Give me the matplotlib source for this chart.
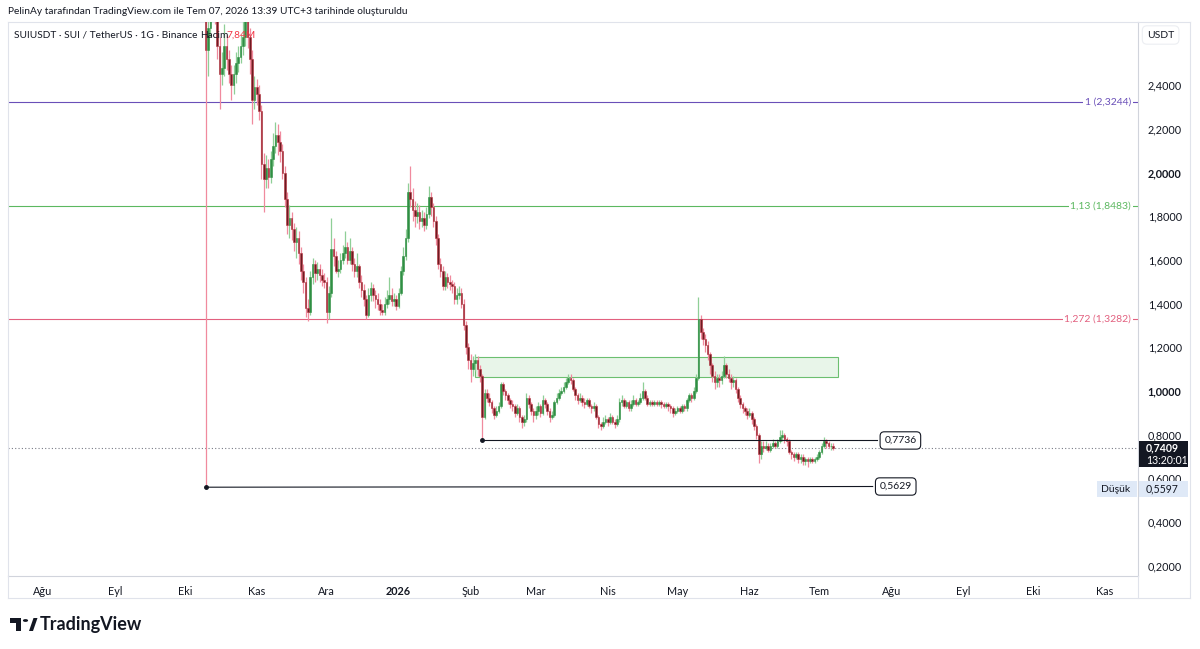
import matplotlib
matplotlib.use('Agg')
import matplotlib.pyplot as plt
import matplotlib.dates as mdates
from matplotlib.patches import Rectangle, Polygon, Circle
from matplotlib.lines import Line2D
import numpy as np
import pandas as pd

plt.rcParams['font.family'] = ['Lato', 'DejaVu Sans']

# daily candles, SUIUSDT Binance, starting 2025-10-10
start_date = '2025-10-10'
first_open = 3.37
closes = [
    2.56, 2.66, 2.78, 2.85, 2.75, 2.58, 2.45, 2.48, 2.58, 2.52,
    2.45, 2.40, 2.45, 2.50, 2.53, 2.58, 2.62, 2.70, 2.62, 2.52,
    2.33, 2.39, 2.36, 2.28, 2.04, 1.97, 2.02, 1.98, 2.06, 2.12,
    2.17, 2.14, 2.10, 2.00, 1.88, 1.76, 1.79, 1.74, 1.68, 1.70,
    1.63, 1.55, 1.50, 1.38, 1.36, 1.52, 1.58, 1.54, 1.56, 1.53,
    1.51, 1.50, 1.36, 1.45, 1.65, 1.62, 1.55, 1.56, 1.60, 1.63,
    1.66, 1.60, 1.64, 1.58, 1.55, 1.57, 1.50, 1.46, 1.42, 1.35,
    1.44, 1.47, 1.44, 1.42, 1.40, 1.37, 1.36, 1.40, 1.42, 1.44,
    1.41, 1.42, 1.39, 1.45, 1.55, 1.62, 1.70, 1.91, 1.88, 1.83,
    1.80, 1.82, 1.78, 1.79, 1.76, 1.81, 1.89, 1.84, 1.78, 1.70,
    1.58, 1.55, 1.48, 1.52, 1.50, 1.49, 1.48, 1.42, 1.44, 1.45,
    1.40, 1.30, 1.20, 1.14, 1.10, 1.13, 1.14, 1.10, 1.07, 0.88,
    0.99, 0.97, 0.95, 0.92, 0.89, 0.91, 0.93, 1.03, 1.00, 0.98,
    0.96, 0.94, 0.93, 0.90, 0.92, 0.88, 0.86, 0.87, 0.97, 0.94,
    0.91, 0.89, 0.91, 0.93, 0.90, 0.96, 0.94, 0.91, 0.88, 0.89,
    0.95, 0.97, 0.99, 1.00, 1.02, 1.04, 1.06, 1.05, 1.01, 0.98,
    0.96, 0.97, 0.95, 0.94, 0.96, 0.93, 0.92, 0.93, 0.88, 0.85,
    0.84, 0.86, 0.87, 0.86, 0.88, 0.86, 0.85, 0.87, 0.95, 0.96,
    0.93, 0.95, 0.92, 0.94, 0.96, 0.94, 0.95, 0.97, 1.00, 0.97,
    0.94, 0.95, 0.94, 0.95, 0.94, 0.95, 0.94, 0.93, 0.94, 0.93,
    0.92, 0.90, 0.91, 0.92, 0.91, 0.93, 0.92, 0.96, 0.98, 0.97,
    1.00, 1.06, 1.33, 1.27, 1.24, 1.21, 1.17, 1.12, 1.07, 1.04,
    1.06, 1.05, 1.07, 1.12, 1.08, 1.06, 1.04, 1.05, 1.01, 0.97,
    0.94, 0.92, 0.91, 0.89, 0.90, 0.87, 0.84, 0.80, 0.71, 0.75,
    0.74, 0.75, 0.73, 0.75, 0.76, 0.75, 0.77, 0.79, 0.80, 0.78,
    0.77, 0.72, 0.71, 0.70, 0.71, 0.69, 0.70, 0.68, 0.69, 0.68,
    0.69, 0.68, 0.69, 0.70, 0.72, 0.75, 0.77, 0.76, 0.75, 0.75, 0.7409,
]
highs = [
    3.42, 2.74, 2.86, 2.92, 2.89, 2.80, 2.62, 2.55, 2.68, 2.63,
    2.56, 2.49, 2.49, 2.55, 2.58, 2.63, 2.70, 2.78, 2.74, 2.66,
    2.56, 2.44, 2.43, 2.40, 2.31, 2.09, 2.08, 2.06, 2.10, 2.18,
    2.23, 2.22, 2.19, 2.13, 2.03, 1.91, 1.85, 1.82, 1.77, 1.75,
    1.73, 1.66, 1.58, 1.52, 1.42, 1.55, 1.61, 1.60, 1.59, 1.58,
    1.56, 1.54, 1.52, 1.48, 1.79, 1.70, 1.64, 1.60, 1.63, 1.67,
    1.73, 1.68, 1.70, 1.66, 1.61, 1.63, 1.58, 1.53, 1.49, 1.44,
    1.47, 1.50, 1.49, 1.46, 1.45, 1.42, 1.40, 1.43, 1.46, 1.52,
    1.47, 1.45, 1.44, 1.47, 1.57, 1.66, 1.74, 1.95, 2.03, 1.93,
    1.87, 1.86, 1.85, 1.83, 1.82, 1.84, 1.94, 1.91, 1.86, 1.80,
    1.72, 1.61, 1.57, 1.55, 1.54, 1.53, 1.51, 1.50, 1.47, 1.48,
    1.47, 1.42, 1.32, 1.22, 1.17, 1.16, 1.17, 1.16, 1.12, 1.08,
    1.01, 1.01, 0.99, 0.96, 0.93, 0.93, 0.95, 1.04, 1.04, 1.01,
    0.99, 0.97, 0.96, 0.94, 0.94, 0.93, 0.89, 0.89, 0.99, 0.98,
    0.95, 0.92, 0.93, 0.95, 0.94, 0.98, 0.97, 0.95, 0.92, 0.91,
    0.96, 0.99, 1.01, 1.02, 1.04, 1.06, 1.08, 1.08, 1.06, 1.02,
    0.99, 0.99, 0.98, 0.97, 0.97, 0.97, 0.94, 0.95, 0.94, 0.89,
    0.86, 0.88, 0.89, 0.88, 0.90, 0.89, 0.87, 0.89, 0.97, 0.98,
    0.97, 0.96, 0.96, 0.96, 0.98, 0.97, 0.96, 0.99, 1.04, 1.01,
    0.98, 0.96, 0.96, 0.96, 0.96, 0.96, 0.96, 0.95, 0.95, 0.95,
    0.94, 0.93, 0.92, 0.93, 0.93, 0.94, 0.94, 0.97, 0.99, 0.99,
    1.02, 1.08, 1.43, 1.35, 1.29, 1.26, 1.23, 1.18, 1.13, 1.09,
    1.08, 1.08, 1.09, 1.16, 1.13, 1.10, 1.08, 1.07, 1.06, 1.02,
    0.98, 0.95, 0.93, 0.92, 0.92, 0.91, 0.88, 0.85, 0.81, 0.77,
    0.77, 0.77, 0.76, 0.76, 0.78, 0.77, 0.78, 0.82, 0.82, 0.81,
    0.79, 0.78, 0.73, 0.72, 0.72, 0.72, 0.71, 0.71, 0.70, 0.70,
    0.70, 0.70, 0.70, 0.71, 0.73, 0.76, 0.79, 0.78, 0.77, 0.76, 0.76,
]
lows = [
    0.5597, 2.44, 2.62, 2.72, 2.68, 2.52, 2.29, 2.40, 2.44, 2.47,
    2.41, 2.33, 2.36, 2.41, 2.46, 2.50, 2.54, 2.58, 2.57, 2.45,
    2.22, 2.29, 2.31, 2.24, 1.97, 1.82, 1.93, 1.93, 1.95, 2.03,
    2.09, 2.08, 2.05, 1.97, 1.84, 1.72, 1.70, 1.69, 1.64, 1.61,
    1.58, 1.51, 1.45, 1.34, 1.32, 1.35, 1.49, 1.50, 1.51, 1.50,
    1.48, 1.47, 1.31, 1.33, 1.43, 1.57, 1.54, 1.52, 1.54, 1.58,
    1.61, 1.58, 1.58, 1.55, 1.52, 1.52, 1.47, 1.43, 1.39, 1.33,
    1.34, 1.41, 1.41, 1.38, 1.37, 1.35, 1.35, 1.35, 1.38, 1.40,
    1.39, 1.39, 1.37, 1.38, 1.44, 1.53, 1.60, 1.68, 1.84, 1.78,
    1.75, 1.77, 1.74, 1.75, 1.73, 1.74, 1.79, 1.80, 1.75, 1.67,
    1.56, 1.52, 1.46, 1.46, 1.47, 1.46, 1.45, 1.40, 1.40, 1.42,
    1.38, 1.28, 1.17, 1.10, 1.04, 1.07, 1.09, 1.07, 1.04, 0.7736,
    0.87, 0.95, 0.93, 0.90, 0.87, 0.88, 0.90, 0.92, 0.98, 0.96,
    0.94, 0.92, 0.91, 0.88, 0.89, 0.86, 0.83, 0.84, 0.86, 0.92,
    0.89, 0.86, 0.87, 0.89, 0.88, 0.89, 0.92, 0.89, 0.86, 0.87,
    0.88, 0.94, 0.96, 0.98, 0.99, 1.01, 1.03, 1.03, 1.00, 0.96,
    0.94, 0.95, 0.93, 0.92, 0.93, 0.92, 0.90, 0.91, 0.87, 0.83,
    0.82, 0.83, 0.85, 0.84, 0.85, 0.85, 0.83, 0.84, 0.86, 0.93,
    0.92, 0.92, 0.91, 0.91, 0.93, 0.93, 0.93, 0.94, 0.96, 0.96,
    0.93, 0.93, 0.93, 0.93, 0.93, 0.93, 0.92, 0.92, 0.92, 0.91,
    0.90, 0.88, 0.89, 0.90, 0.90, 0.90, 0.91, 0.91, 0.95, 0.95,
    0.96, 0.99, 1.05, 1.24, 1.21, 1.18, 1.14, 1.08, 1.04, 1.01,
    1.02, 1.02, 1.03, 1.06, 1.06, 1.04, 1.01, 1.02, 0.99, 0.95,
    0.92, 0.90, 0.89, 0.87, 0.88, 0.85, 0.82, 0.78, 0.67, 0.69,
    0.72, 0.73, 0.72, 0.72, 0.74, 0.74, 0.74, 0.76, 0.77, 0.76,
    0.75, 0.71, 0.69, 0.68, 0.69, 0.67, 0.67, 0.66, 0.66, 0.65,
    0.67, 0.67, 0.67, 0.68, 0.69, 0.71, 0.74, 0.74, 0.74, 0.73, 0.73,
]

# drawings
fib_levels = [2.3244, 1.8483, 1.3282]
fib_labels = ['1 (2,3244)', '1,13 (1,8483)', '1,272 (1,3282)']
fib_colors = ['#6a4fb8', '#5cb860', '#e2607f']
zone_start, zone_end = '2026-02-03', '2026-07-09'
zone_low, zone_high = 1.064, 1.156
support_start, support_end, support_price = '2026-02-06', '2026-07-26', 0.7736
low_start, low_end = '2025-10-10', '2026-07-24'
low_left, low_right = 0.5597, 0.5629
last_price = 0.7409
month_ticks = pd.date_range('2025-08-01', '2026-11-01', freq='MS')
month_names = ['Ağu', 'Eyl', 'Eki', 'Kas', 'Ara', '2026', 'Şub', 'Mar', 'Nis',
               'May', 'Haz', 'Tem', 'Ağu', 'Eyl', 'Eki', 'Kas']
price_ticks = [0.2, 0.4, 0.6, 0.8, 1.0, 1.2, 1.4, 1.6, 1.8, 2.0, 2.2, 2.4]

W, H = 1200, 649
fig = plt.figure(figsize=(12, 6.49), dpi=100)
fig.patch.set_facecolor('white')


def fx(px):
    return px / W


def fy(py):
    return 1 - py / H


ax = fig.add_axes([fx(8), fy(576), fx(1138) - fx(8), fy(22) - fy(576)])
base = mdates.date2num(pd.Timestamp('2025-08-01'))
ax.set_xlim(base - 35 / 2.324, base + 1095 / 2.324)
ax.set_ylim(0.1533, 2.6888)

c = np.array(closes)
h = np.array(highs)
l = np.array(lows)
o = np.r_[first_open, c[:-1]]
x = mdates.date2num(pd.date_range(start_date, periods=len(c), freq='D'))
up = c >= o
dn = ~up

ax.vlines(x[up], l[up], h[up], color='#8fcf97', lw=0.9, zorder=3)
ax.vlines(x[dn], l[dn], h[dn], color='#f08a9e', lw=0.9, zorder=3)
ax.bar(x[up], (c - o)[up], bottom=o[up], width=0.7, color='#2f8f43',
       edgecolor='#2f8f43', lw=0.4, zorder=4)
ax.bar(x[dn], (c - o)[dn], bottom=o[dn], width=0.7, color='#6e1b22',
       edgecolor='#b8323f', lw=0.4, zorder=4)

# fib levels
for lev, lab, col in zip(fib_levels, fib_labels, fib_colors):
    ax.axhline(lev, color=col, lw=0.8, zorder=2)
    fig.text(fx(1131), fy(391 - (lev - 1) * 218.5), lab, ha='right', va='center',
             fontsize=7.5, color=col,
             bbox=dict(boxstyle='square,pad=0.15', fc='white', ec='none'))

# green zone
zs = mdates.date2num(pd.Timestamp(zone_start))
ze = mdates.date2num(pd.Timestamp(zone_end))
ax.add_patch(Rectangle((zs, zone_low), ze - zs, zone_high - zone_low,
                       fc='#e8f5e9', ec='#6cbf70', lw=0.8, zorder=1))

# support and low lines
s0 = mdates.date2num(pd.Timestamp(support_start))
s1 = mdates.date2num(pd.Timestamp(support_end))
ax.plot([s0, s1], [support_price, support_price], color='#131722', lw=0.8, zorder=5)
ax.plot([s0], [support_price], 'o', color='#131722', ms=2.5, zorder=6)
ax.annotate('0,7736', xy=(s1, support_price), xytext=(5, 0), textcoords='offset points',
            ha='left', va='center', fontsize=7.5, color='#131722', zorder=7,
            bbox=dict(boxstyle='round,pad=0.4', fc='white', ec='#131722', lw=0.8))
l0 = mdates.date2num(pd.Timestamp(low_start))
l1 = mdates.date2num(pd.Timestamp(low_end))
ax.plot([l0, l1], [low_left, low_right], color='#131722', lw=0.8, zorder=5)
ax.plot([l0], [low_left], 'o', color='#131722', ms=2.5, zorder=6)
ax.annotate('0,5629', xy=(l1, low_right), xytext=(5, 0), textcoords='offset points',
            ha='left', va='center', fontsize=7.5, color='#131722', zorder=7,
            bbox=dict(boxstyle='round,pad=0.4', fc='white', ec='#131722', lw=0.8))

# last price dotted line
ax.axhline(last_price, color='#787b86', lw=0.8, ls=(0, (1, 2)), zorder=2)

# axes styling
for side in ['top', 'left']:
    ax.spines[side].set_color('#e0e3eb')
for side in ['right', 'bottom']:
    ax.spines[side].set_color('#d1d4dc')
for sp in ax.spines.values():
    sp.set_linewidth(0.8)

ax.yaxis.tick_right()
ax.set_yticks(price_ticks)
ax.set_yticklabels([f'{p:.4f}'.replace('.', ',') for p in price_ticks])
ax.tick_params(axis='y', length=0, pad=7, labelsize=7.8, labelcolor='#131722')
for t, p in zip(ax.get_yticklabels(), price_ticks):
    if p in (1.0, 2.0):
        t.set_fontweight('bold')

ax.set_xticks(mdates.date2num(month_ticks))
ax.set_xticklabels(month_names)
ax.tick_params(axis='x', length=0, pad=7, labelsize=7.8, labelcolor='#131722')
for t, n in zip(ax.get_xticklabels(), month_names):
    if n == '2026':
        t.set_fontweight('bold')

# outer frame
fig.add_artist(Line2D([fx(8), fx(1190)], [fy(598), fy(598)], color='#e0e3eb', lw=0.8))
fig.add_artist(Line2D([fx(1190), fx(1190)], [fy(22), fy(598)], color='#e0e3eb', lw=0.8))
fig.add_artist(Line2D([fx(1138), fx(1138)], [fy(576), fy(598)], color='#e0e3eb', lw=0.8))
fig.add_artist(Line2D([fx(8), fx(8)], [fy(576), fy(598)], color='#e0e3eb', lw=0.8))
fig.add_artist(Line2D([fx(1138), fx(1190)], [fy(22), fy(22)], color='#e0e3eb', lw=0.8))

# header texts
fig.text(fx(8), fy(12), 'PelinAy tarafından TradingView.com ile Tem 07, 2026 13:39 UTC+3 tarihinde oluşturuldu',
         ha='left', va='center', fontsize=7.25, color='#131722')
fig.text(fx(14), fy(35), 'SUIUSDT · SUI / TetherUS · 1G · Binance', ha='left', va='center',
         fontsize=7.3, color='#131722')
fig.text(fx(200), fy(35), 'Hacim', ha='left', va='center', fontsize=7.3, color='#131722')
fig.text(fx(226), fy(35), '7,84M', ha='left', va='center', fontsize=7.3, color='#f23645')

# right axis widgets
fig.text(fx(1147), fy(35), 'USDT', ha='left', va='center', fontsize=7.5, color='#131722',
         bbox=dict(boxstyle='round,pad=0.45', fc='white', ec='#eceef2', lw=0.8))
fig.add_artist(Rectangle((fx(1139), fy(467)), fx(49), fy(441) - fy(467), fc='#131722',
                         ec='none', transform=fig.transFigure))
fig.text(fx(1146), fy(448), '0,7409', ha='left', va='center', fontsize=7.6,
         color='white', fontweight='bold')
fig.text(fx(1146), fy(460), '13:20:01', ha='left', va='center', fontsize=7.6, color='white')
fig.add_artist(Rectangle((fx(1097), fy(497)), fx(40), fy(481) - fy(497), fc='#dfe9f7',
                         ec='none', transform=fig.transFigure))
fig.text(fx(1101), fy(489), 'Düşük', ha='left', va='center', fontsize=7.5, color='#131722')
fig.add_artist(Rectangle((fx(1139), fy(497)), fx(49), fy(481) - fy(497), fc='#dfe9f7',
                         ec='none', transform=fig.transFigure))
fig.text(fx(1146), fy(489), '0,5597', ha='left', va='center', fontsize=7.6, color='#131722')

# TradingView logo
def P(px, py):
    return (fx(px), fy(py))


fig.add_artist(Polygon([P(10, 618), P(21, 618), P(21, 631), P(16, 631), P(16, 623), P(10, 623)],
                       closed=True, fc='#131722', ec='none', transform=fig.transFigure))
fig.add_artist(Polygon([P(29, 631), P(33.5, 618), P(37.5, 618), P(33, 631)],
                       closed=True, fc='#131722', ec='none', transform=fig.transFigure))
fig.add_artist(Circle(P(25.5, 620.5), 2.6 / W, fc='#131722', ec='none',
                      transform=fig.transFigure))
fig.text(fx(40), fy(624.5), 'TradingView', ha='left', va='center', fontsize=13,
         fontweight='bold', color='#131722')

fig.savefig('out.png', dpi=100, facecolor='white')
